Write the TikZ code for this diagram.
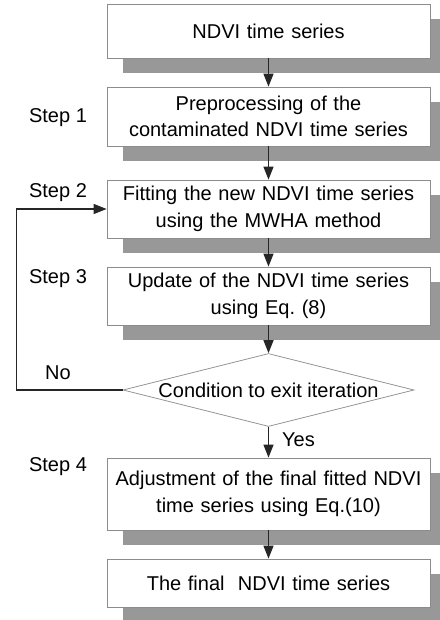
\documentclass[tikz,border=0pt]{standalone}
\usepackage{fontspec}
\setmainfont{Liberation Sans}
\usetikzlibrary{shapes.geometric,shadows,arrows.meta}

\definecolor{shadowgray}{RGB}{152,152,152}
\definecolor{framegray}{RGB}{140,140,140}

\def\boxw{323}
\def\midx{268.5}

\tikzset{
  stepbox/.style={draw=framegray, line width=0.7pt, fill=white, minimum width=\boxw pt,
    text width=318pt, align=center, inner sep=0pt,
    general shadow={fill=shadowgray, shadow xshift=15.5pt, shadow yshift=-15.5pt}},
  decision/.style={draw=framegray, line width=0.7pt, fill=white, diamond, aspect=4,
    minimum width=291pt, minimum height=73pt, inner sep=0pt},
  flow/.style={line width=1.1pt, draw=black!85, -{Triangle[length=13pt,width=10pt]}},
  lbl/.style={inner sep=0pt}
}

\begin{document}
\frenchspacing
\begin{tikzpicture}[x=1pt, y=1pt, font=\fontsize{20}{26.5}\selectfont]
  \useasboundingbox (0,0) rectangle (439,620);

  % main column
  \node[stepbox, minimum height=54pt] (input) at (\midx,589) {NDVI time series};
  \node[stepbox, minimum height=59pt] (prep) at (\midx,503.5) {Preprocessing of the\\contaminated NDVI time series};
  \node[stepbox, minimum height=58pt] (fit) at (\midx,411) {Fitting the new NDVI time series\\using the MWHA method};
  \node[stepbox, minimum height=58pt] (update) at (\midx,324) {Update of the NDVI time series\\using Eq. (8)};
  \node[decision] (cond) at (\midx,230) {Condition to exit iteration};
  \node[stepbox, minimum height=72pt] (adjust) at (\midx,126) {Adjustment of the final fitted NDVI\\time series using Eq.(10)};
  \node[stepbox, minimum height=48pt] (output) at (\midx,37) {The final~ NDVI time series};

  % step labels on the left
  \foreach \n/\y in {1/502,2/427,3/341,4/153}{
    \node[lbl] (step\n) at (58,\y) {Step \n};
  }

  \draw[flow] (input) -- (prep);
  \draw[flow] (prep) -- (fit);
  \draw[flow] (fit) -- (update);
  \draw[flow] (update) -- (cond);
  \draw[flow] (cond) -- (adjust);
  \draw[flow] (adjust) -- (output);

  % iterate again
  \draw[flow] (cond.west) -- ++(-106,0) |- (fit.west);
  \node[lbl] (no) at (58,247) {No};
  \node[lbl, anchor=west] (yes) at (282,180) {Yes};
\end{tikzpicture}
\end{document}
